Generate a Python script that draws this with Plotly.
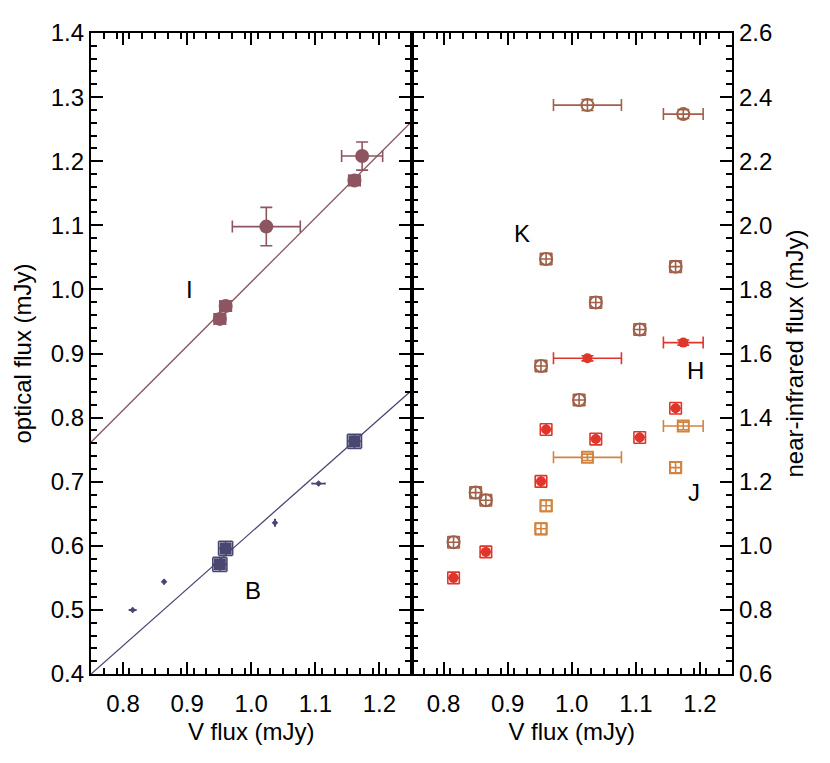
import plotly.graph_objects as go

# ---- data ----
# Left panel: optical fluxes vs V flux
vx_I = [0.951, 0.960, 1.0235, 1.161, 1.173]
flux_I = [0.954, 0.974, 1.098, 1.170, 1.208]
vxerr_I = [0.009, 0.009, 0.053, 0.009, 0.032]
err_I = [0.008, 0.008, 0.030, 0.008, 0.022]

# B band: well-measured points (large squares) and faint points (tiny markers)
vx_B = [0.951, 0.960, 1.161]
flux_B = [0.571, 0.596, 0.763]
vxerr_B = [0.011, 0.011, 0.011]
err_B = [0.011, 0.011, 0.011]

vx_Bs = [0.815, 0.864, 1.037, 1.105]
flux_Bs = [0.500, 0.544, 0.636, 0.697]
vxerr_Bs = [0.005, 0.002, 0.001, 0.010]
err_Bs = [0.002, 0.003, 0.005, 0.002]

# linear fits (intercept, slope)
fit_I = (0.0115, 1.0)
fit_B = (-0.2638, 0.885)
fit_x = [0.75, 1.25]

# Right panel: near-infrared fluxes vs V flux
vx_K = [0.8156, 0.850, 0.866, 0.952, 0.960, 1.0115, 1.0245, 1.0375, 1.106, 1.162, 1.174]
flux_K = [1.011, 1.166, 1.142, 1.561, 1.895, 1.455, 2.375, 1.759, 1.675, 1.871, 2.347]
vxerr_K = [0.009, 0.009, 0.009, 0.009, 0.009, 0.009, 0.053, 0.009, 0.009, 0.009, 0.031]
err_K = [0.018, 0.018, 0.018, 0.018, 0.018, 0.018, 0.017, 0.018, 0.018, 0.018, 0.014]

vx_H = [0.8156, 0.866, 0.952, 0.960, 1.0245, 1.0375, 1.106, 1.162, 1.174]
flux_H = [0.900, 0.981, 1.201, 1.363, 1.585, 1.333, 1.338, 1.429, 1.634]
vxerr_H = [0.009, 0.009, 0.009, 0.009, 0.053, 0.009, 0.009, 0.009, 0.031]
err_H = [0.018, 0.018, 0.018, 0.018, 0.008, 0.018, 0.018, 0.018, 0.008]

vx_J = [0.952, 0.960, 1.0245, 1.162, 1.174]
flux_J = [1.053, 1.125, 1.276, 1.244, 1.374]
vxerr_J = [0.009, 0.009, 0.053, 0.009, 0.031]
err_J = [0.018, 0.018, 0.010, 0.018, 0.012]

C_I = "#8c5560"
C_B = "#4a4672"
C_K = "#a0604a"
C_H = "#e0352b"
C_J = "#d2843f"

FONT = "Liberation Sans, Arial, Helvetica, sans-serif"
FS = 24

fig = go.Figure()


def pts(x, y, ex, ey, color, symbol, size, xa, ya, lw=0, cap=6):
    fig.add_trace(go.Scatter(
        x=x, y=y, mode="markers", xaxis=xa, yaxis=ya, showlegend=False,
        marker=dict(color=color, symbol=symbol, size=size, line=dict(color=color, width=lw)),
        error_x=dict(type="data", array=ex, color=color, thickness=1.6, width=cap),
        error_y=dict(type="data", array=ey, color=color, thickness=1.6, width=cap),
    ))


def fitline(fit, color):
    a, b = fit
    fig.add_trace(go.Scatter(
        x=fit_x, y=[a + b * v for v in fit_x], mode="lines", xaxis="x", yaxis="y",
        line=dict(color=color, width=1.3), showlegend=False))


fitline(fit_I, C_I)
fitline(fit_B, C_B)
pts(vx_I, flux_I, vxerr_I, err_I, C_I, "circle", 14, "x", "y")
pts(vx_B, flux_B, vxerr_B, err_B, C_B, "square", 12, "x", "y", cap=7)
pts(vx_Bs, flux_Bs, vxerr_Bs, err_Bs, C_B, "diamond", 5, "x", "y", cap=1)

pts(vx_K, flux_K, vxerr_K, err_K, C_K, "circle-open", 12, "x2", "y2", lw=2)
pts(vx_H, flux_H, vxerr_H, err_H, C_H, "circle", 10, "x2", "y2")
pts(vx_J, flux_J, vxerr_J, err_J, C_J, "square-open", 11, "x2", "y2", lw=2)

labels = [("I", 0.903, 1.0, "x", "y"), ("B", 1.002, 0.53, "x", "y"),
          ("K", 0.922, 1.975, "x2", "y2"), ("H", 1.193, 1.546, "x2", "y2"),
          ("J", 1.191, 1.166, "x2", "y2")]
for t, x, y, xa, ya in labels:
    fig.add_annotation(x=x, y=y, xref=xa, yref=ya, text=t, showarrow=False,
                       font=dict(size=FS, color="black", family=FONT))

axis_common = dict(
    showline=True, linecolor="black", linewidth=2.2, mirror="allticks",
    ticks="inside", ticklen=12, tickwidth=2, tickcolor="black",
    showgrid=False, zeroline=False, automargin=False,
    tickfont=dict(size=FS, color="black", family=FONT),
)
minor_x = dict(dtick=0.02, tick0=0.75, ticks="inside", ticklen=6, tickwidth=2, tickcolor="black")

fig.update_layout(
    width=830, height=763,
    margin=dict(l=83, r=106, t=25, b=97),
    plot_bgcolor="white", paper_bgcolor="white",
    font=dict(family=FONT, color="black"),
    xaxis=dict(domain=[0, 0.5], range=[0.75, 1.25], tickvals=[0.8, 0.9, 1.0, 1.1, 1.2],
               ticktext=["0.8", "0.9", "1.0", "1.1", "1.2"], minor=minor_x, ticklabelstandoff=7,
               title=dict(text="V flux (mJy)", font=dict(size=FS, family=FONT), standoff=7),
               anchor="y", **axis_common),
    yaxis=dict(range=[0.4, 1.4], dtick=0.1, tickformat=".1f",
               minor=dict(dtick=0.02, tick0=0.4, ticks="inside", ticklen=6, tickwidth=2, tickcolor="black"),
               title=dict(text="optical flux (mJy)", font=dict(size=FS, family=FONT), standoff=12),
               anchor="x", **axis_common),
    xaxis2=dict(domain=[0.5, 1], range=[0.75, 1.25], tickvals=[0.8, 0.9, 1.0, 1.1, 1.2],
                ticktext=["0.8", "0.9", "1.0", "1.1", "1.2"], minor=minor_x, ticklabelstandoff=7,
                title=dict(text="V flux (mJy)", font=dict(size=FS, family=FONT), standoff=7),
                anchor="y2", **axis_common),
    yaxis2=dict(range=[0.6, 2.6], dtick=0.2, tickformat=".1f", side="right",
                minor=dict(dtick=0.04, tick0=0.6, ticks="inside", ticklen=6, tickwidth=2, tickcolor="black"),
                title=dict(text="near-infrared flux (mJy)", font=dict(size=FS, family=FONT), standoff=15),
                anchor="x2", **axis_common),
)

fig.write_html("out.html")
